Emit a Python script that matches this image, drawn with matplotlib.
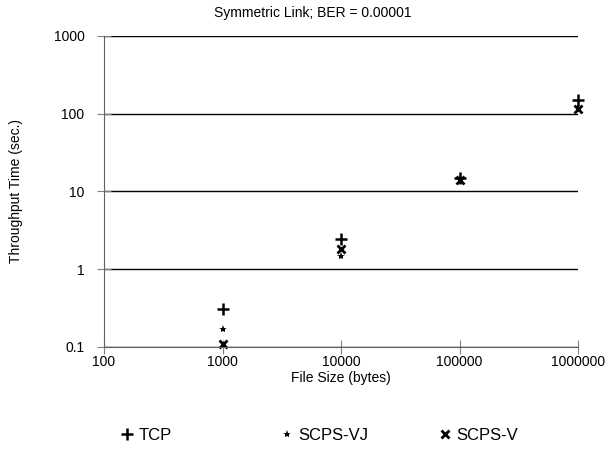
import matplotlib
matplotlib.use('Agg')
import matplotlib.pyplot as plt
from matplotlib.lines import Line2D

plt.rcParams['font.family'] = ['Liberation Sans', 'DejaVu Sans']

# Data
file_sizes = [1000, 10000, 100000, 1000000]
tcp = [0.31, 2.45, 15.0, 150]
scps_vj = [0.17, 1.5, 14.0, 120]
scps_v = [0.11, 1.8, 14.0, 115]
tick_vals = [100, 1000, 10000, 100000, 1000000]
ytick_vals = [0.1, 1, 10, 100, 1000]
ytick_labels = ['0.1', '1', '10', '100', '1000']

fig = plt.figure(figsize=(6.13, 4.51), dpi=100)
ax = fig.add_axes([0.1697, 0.2306, 0.7735, 0.6896])

styles = {
    'TCP': dict(marker='+', markersize=8, markeredgewidth=1.8),
    'SCPS-VJ': dict(marker='*', markersize=6, markeredgewidth=0),
    'SCPS-V': dict(marker='x', markersize=6, markeredgewidth=2),
}

ax.plot(file_sizes, tcp, linestyle='none', color='black', clip_on=False, **styles['TCP'])
ax.plot(file_sizes, scps_vj, linestyle='none', color='black', clip_on=False, **styles['SCPS-VJ'])
ax.plot(file_sizes, scps_v, linestyle='none', color='black', clip_on=False, **styles['SCPS-V'])

ax.set_xscale('log')
ax.set_yscale('log')
ax.set_xlim(100, 1000000)
ax.set_ylim(0.1, 1000)
ax.set_xticks(tick_vals)
ax.set_xticklabels([str(v) for v in tick_vals])
ax.set_yticks(ytick_vals)
ax.set_yticklabels(ytick_labels)
ax.minorticks_off()

ax.yaxis.grid(True, color='black', linewidth=1)
ax.set_axisbelow(True)
for s in ['top', 'right']:
    ax.spines[s].set_visible(False)
ax.spines['left'].set_color('#606060')
ax.spines['bottom'].set_color('#606060')
ax.tick_params(axis='x', labelsize=10, color='#808080', direction='inout', length=10, pad=1)
ax.tick_params(axis='y', labelsize=10, color='#808080', direction='inout', length=10, pad=9)

ax.set_xlabel('File Size (bytes)', fontsize=10, labelpad=1)
ax.set_ylabel('Throughput Time (sec.)', fontsize=10)
ax.yaxis.set_label_coords(-0.17, 0.5)
fig.text(0.511, 1 - 17 / 451, 'Symmetric Link; BER = 0.00001', fontsize=10,
         ha='center', va='baseline')

# legend entries laid out in fixed-width columns like the original
legend_x = [0.1936, 0.4547, 0.7124]
for (name, st), lx in zip(styles.items(), legend_x):
    h = Line2D([], [], linestyle='none', color='black', **st)
    fig.legend([h], [name], loc='center left', bbox_to_anchor=(lx, 1 - 435 / 451),
               frameon=False, fontsize=12, handlelength=1, handletextpad=0.2,
               borderpad=0, borderaxespad=0)

fig.savefig('out.png', dpi=100)
